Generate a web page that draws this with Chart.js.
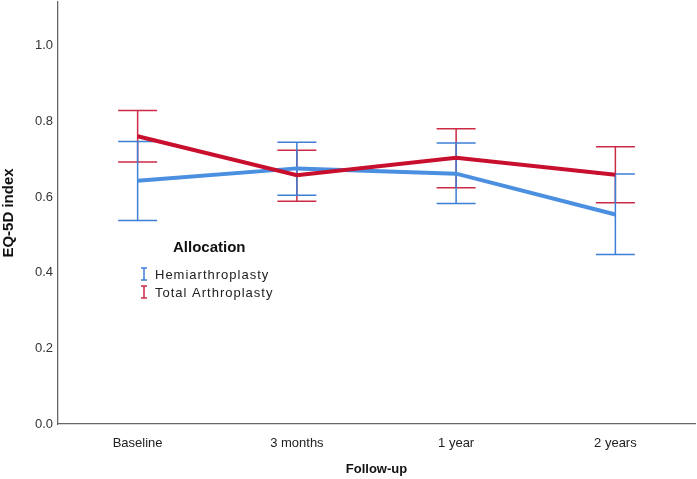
<!DOCTYPE html>
<html>
<head>
<meta charset="utf-8">
<script src="https://cdn.jsdelivr.net/npm/chart.js@4"></script>
<style>
  body { margin: 0; background: #fff; }
</style>
</head>
<body>
<canvas id="line-chart" width="697" height="479"></canvas>
<script>
// data
const categories = ["Baseline", "3 months", "1 year", "2 years"];
const hemiMean  = [0.643, 0.676, 0.662, 0.554];
const hemiLower = [0.538, 0.605, 0.583, 0.448];
const hemiUpper = [0.747, 0.745, 0.743, 0.661];
const totalMean  = [0.761, 0.658, 0.704, 0.659];
const totalLower = [0.693, 0.589, 0.625, 0.585];
const totalUpper = [0.829, 0.724, 0.781, 0.733];
const yTicks = [0, 0.2, 0.4, 0.6, 0.8, 1.0];

const FONT = "'Liberation Sans', Arial, sans-serif";

// error bars (drawn under the lines)
const errorBars = {
  id: "errorBars",
  beforeDatasetsDraw(chart) {
    const ctx = chart.ctx;
    const x = chart.scales.x, y = chart.scales.y;
    const capHalf = 19.5;
    chart.data.datasets.slice().reverse().forEach((ds) => {
      ctx.save();
      ctx.strokeStyle = ds.errorColor;
      ctx.lineWidth = 1.5;
      ds.lower.forEach((lo, i) => {
        const px = x.getPixelForValue(i);
        const yl = y.getPixelForValue(lo);
        const yu = y.getPixelForValue(ds.upper[i]);
        ctx.beginPath();
        ctx.moveTo(px, yl); ctx.lineTo(px, yu);
        ctx.moveTo(px - capHalf, yl); ctx.lineTo(px + capHalf, yl);
        ctx.moveTo(px - capHalf, yu); ctx.lineTo(px + capHalf, yu);
        ctx.stroke();
      });
      ctx.restore();
    });
  },
};

// legend inside the plot, like the original
const insideLegend = {
  id: "insideLegend",
  afterDraw(chart) {
    const ctx = chart.ctx;
    const left = chart.chartArea.left;
    ctx.save();
    ctx.fillStyle = "#111";
    ctx.font = "bold 15px " + FONT;
    ctx.textBaseline = "middle";
    ctx.fillText("Allocation", left + 115, 248);
    ctx.font = "13px " + FONT;
    ctx.letterSpacing = "1px";
    chart.data.datasets.forEach((ds, i) => {
      const yy = 274 + i * 18;
      const ix = left + 86;
      ctx.strokeStyle = ds.errorColor;
      ctx.lineWidth = 1.5;
      ctx.beginPath();
      ctx.moveTo(ix, yy - 6); ctx.lineTo(ix, yy + 6);
      ctx.moveTo(ix - 3, yy - 6); ctx.lineTo(ix + 3, yy - 6);
      ctx.moveTo(ix - 3, yy + 6); ctx.lineTo(ix + 3, yy + 6);
      ctx.stroke();
      ctx.fillStyle = "#222";
      ctx.fillText(ds.label, ix + 11, yy + 1);
    });
    ctx.letterSpacing = "0px";
    ctx.restore();
  },
};

new Chart(document.getElementById("line-chart"), {
  type: "line",
  data: {
    labels: categories,
    datasets: [
      {
        label: "Hemiarthroplasty",
        data: hemiMean,
        lower: hemiLower,
        upper: hemiUpper,
        borderColor: "#4a8fe0",
        errorColor: "#3d7fd6",
        borderWidth: 4,
        pointRadius: 0,
        fill: false,
        order: 1,
      },
      {
        label: "Total Arthroplasty",
        data: totalMean,
        lower: totalLower,
        upper: totalUpper,
        borderColor: "#c8102e",
        errorColor: "#cc2b46",
        borderWidth: 4,
        pointRadius: 0,
        fill: false,
        order: 0,
      },
    ],
  },
  options: {
    responsive: false,
    animation: false,
    layout: { padding: { top: 2, right: 2, left: 0, bottom: 0 } },
    plugins: {
      legend: { display: false },
      tooltip: { enabled: false },
    },
    scales: {
      x: {
        offset: true,
        grid: { display: false, drawTicks: false },
        border: { color: "#666", width: 1.3 },
        ticks: { color: "#222", padding: 12, font: { family: FONT, size: 13 } },
        title: {
          display: true,
          text: "Follow-up",
          color: "#111",
          font: { family: FONT, size: 13, weight: "bold" },
          padding: { top: 0, bottom: 2 },
        },
        afterFit(s) { s.height = 55; s.paddingLeft = 0; s.paddingRight = 0; },
      },
      y: {
        min: 0,
        max: 1.116,
        grid: { display: false, drawTicks: false },
        border: { color: "#666", width: 1.3 },
        afterBuildTicks(s) { s.ticks = yTicks.map((v) => ({ value: v })); },
        ticks: {
          color: "#333",
          padding: 5,
          font: { family: FONT, size: 13 },
          callback: (v) => Number(v).toFixed(1),
        },
        title: {
          display: true,
          text: "EQ-5D index",
          color: "#111",
          font: { family: FONT, size: 15, weight: "bold" },
          padding: 0,
        },
        afterFit(s) { s.width = 58; s.paddingTop = 0; s.paddingBottom = 0; },
      },
    },
  },
  plugins: [errorBars, insideLegend],
});
</script>
</body>
</html>
